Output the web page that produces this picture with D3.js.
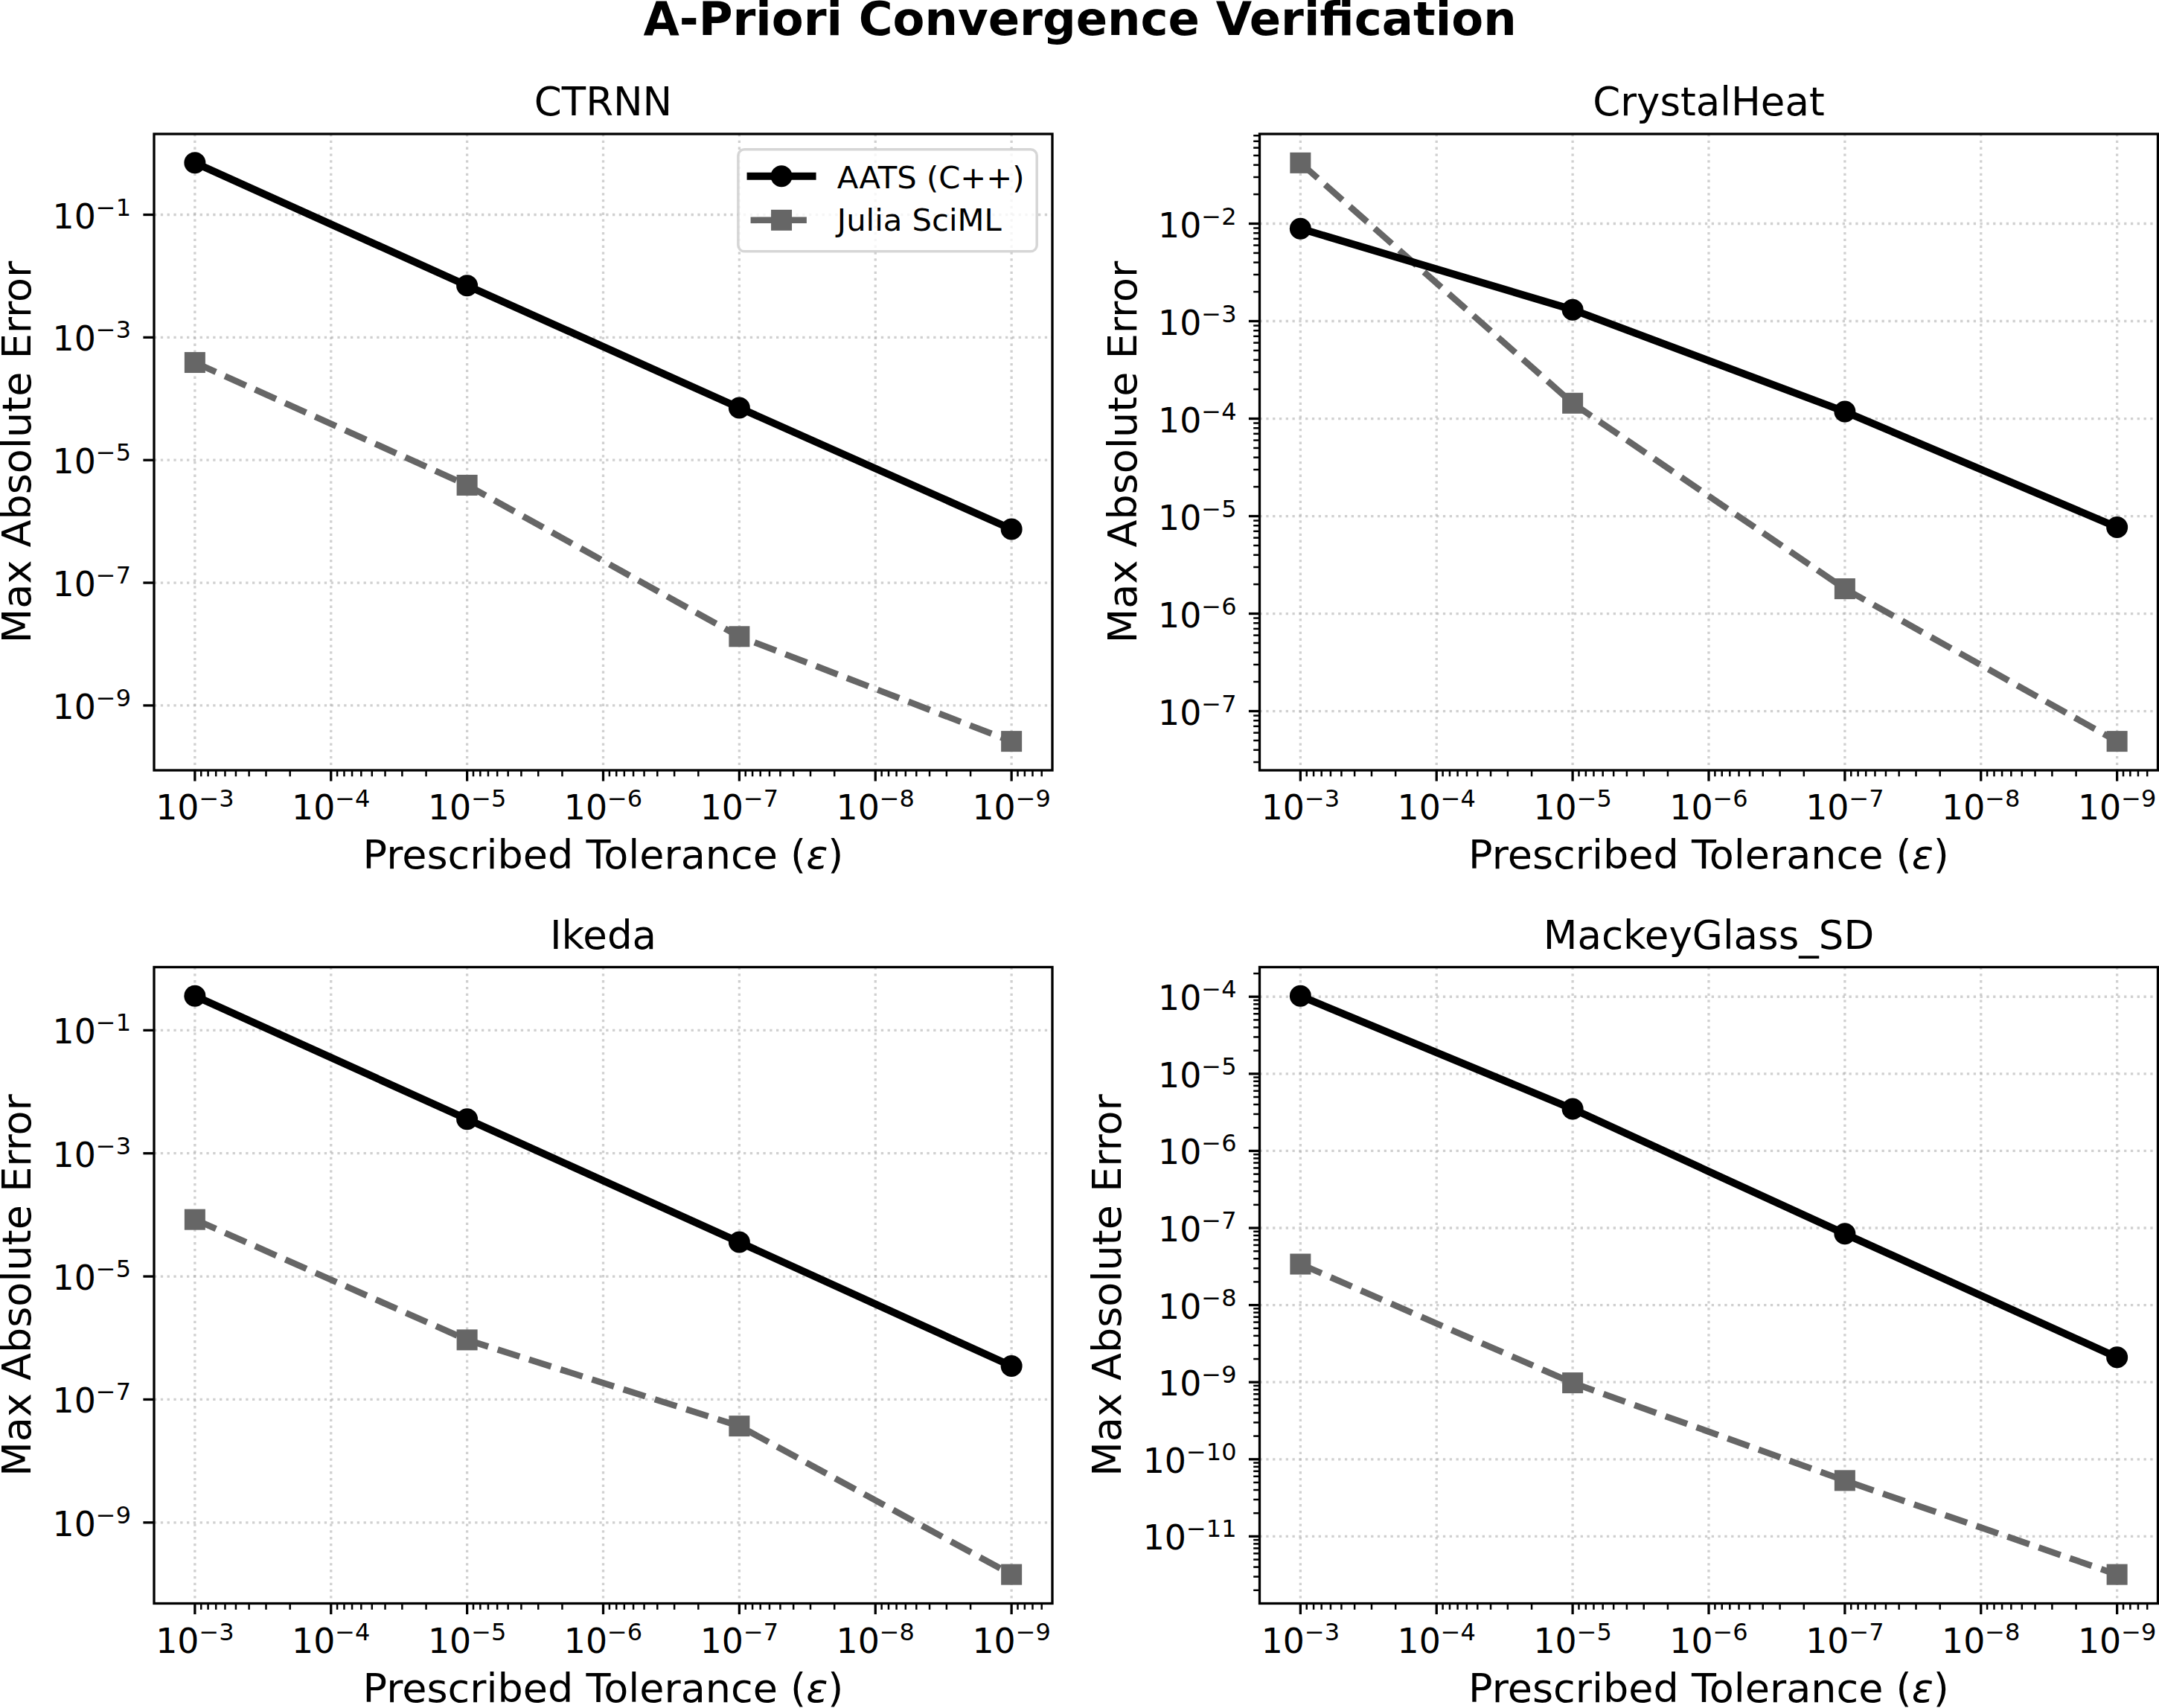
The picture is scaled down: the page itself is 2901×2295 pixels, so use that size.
<!DOCTYPE html>
<meta charset="utf-8">

<!-- Load d3.js -->
<script src="https://d3js.org/d3.v7.min.js"></script>

<style>
  body { margin: 0; background: #fff; }
  text { font-family: "DejaVu Sans", sans-serif; fill: #000; }
</style>

<!-- Create a div where the graph will take place -->
<div id="my_dataviz"></div>

<script>

// ---- data ----
var tolerances = [1e-3, 1e-5, 1e-7, 1e-9];
var panelNames = ["CTRNN", "CrystalHeat", "Ikeda", "MackeyGlass_SD"];
var seriesNames = ["AATS (C++)", "Julia SciML"];

var ctrnnAats = [0.70, 7.0e-3, 7.1e-5, 7.5e-7];
var ctrnnJulia = [3.9e-4, 3.9e-6, 1.33e-8, 2.6e-10];
var crystalAats = [8.9e-3, 1.31e-3, 1.18e-4, 7.7e-6];
var crystalJulia = [4.2e-2, 1.44e-4, 1.8e-6, 4.9e-8];
var ikedaAats = [0.36, 3.6e-3, 3.6e-5, 3.5e-7];
var ikedaJulia = [8.4e-5, 9.3e-7, 3.7e-8, 1.43e-10];
var mackeyAats = [1.02e-4, 3.5e-6, 8.4e-8, 2.1e-9];
var mackeyJulia = [3.4e-8, 9.8e-10, 5.3e-11, 3.2e-12];

// tick exponents (labels are 10^exp)
var xTickExps = [-3, -4, -5, -6, -7, -8, -9];
var ctrnnYTicks = [-1, -3, -5, -7, -9];
var crystalYTicks = [-2, -3, -4, -5, -6, -7];
var ikedaYTicks = [-1, -3, -5, -7, -9];
var mackeyYTicks = [-4, -5, -6, -7, -8, -9, -10, -11];

// ---- layout ----
var W = 2901, H = 2295;
var colLeft = [207, 1692.5], rowTop = [180, 1299.5];
var aw = 1207, ah = 855;
var majorLen = 14.6, minorLen = 8.3;
var tickFont = 45.8, supFont = 32, labelFont = 54, titleFont = 53, legendFont = 41.7;
var aatsColor = "#000000", juliaColor = "#666666";

var panels = [
  {name: panelNames[0], aats: ctrnnAats, julia: ctrnnJulia, yTicks: ctrnnYTicks, col: 0, row: 0, legend: true},
  {name: panelNames[1], aats: crystalAats, julia: crystalJulia, yTicks: crystalYTicks, col: 1, row: 0},
  {name: panelNames[2], aats: ikedaAats, julia: ikedaJulia, yTicks: ikedaYTicks, col: 0, row: 1},
  {name: panelNames[3], aats: mackeyAats, julia: mackeyJulia, yTicks: mackeyYTicks, col: 1, row: 1}
];

var svg = d3.select("#my_dataviz")
  .append("svg")
    .attr("width", W)
    .attr("height", H);

svg.append("rect").attr("width", W).attr("height", H).attr("fill", "#fff");

// figure title
svg.append("text")
    .attr("x", 1451)
    .attr("y", 47)
    .attr("text-anchor", "middle")
    .attr("font-weight", "bold")
    .attr("font-size", 62.5)
    .text("A-Priori Convergence Verification");

// log axis with matplotlib style 5% margins (in log space)
function logDomain(vals) {
  var lg = vals.map(function(v) { return Math.log10(v); });
  var lo = d3.min(lg), hi = d3.max(lg), pad = (hi - lo) * 0.05;
  return [lo - pad, hi + pad];
}

// "10" with a superscript exponent
function powLabel(sel, e) {
  sel.append("tspan").text("10");
  sel.append("tspan")
      .attr("dy", -17)
      .attr("font-size", supFont)
      .text("\u2212" + Math.abs(e));
}

function minorValues(domLo, domHi) {
  var out = [];
  for (var e = Math.floor(domLo) - 1; e <= Math.ceil(domHi); e++) {
    for (var k = 2; k <= 9; k++) {
      var lv = Math.log10(k) + e;
      if (lv >= domLo && lv <= domHi) out.push(Math.pow(10, lv));
    }
  }
  return out;
}

var xd = logDomain(tolerances);

panels.forEach(function(p) {
  var g = svg.append("g")
      .attr("transform", "translate(" + colLeft[p.col] + "," + rowTop[p.row] + ")");

  // X axis: inverted log scale (big tolerance on the left)
  var x = d3.scaleLog()
      .domain([Math.pow(10, xd[1]), Math.pow(10, xd[0])])
      .range([0, aw]);

  var yd = logDomain(p.aats.concat(p.julia));
  var y = d3.scaleLog()
      .domain([Math.pow(10, yd[0]), Math.pow(10, yd[1])])
      .range([ah, 0]);

  var xMajor = xTickExps.map(function(e) { return Math.pow(10, e); });
  var yMajor = p.yTicks.map(function(e) { return Math.pow(10, e); });

  // grid
  g.selectAll(".gx").data(xMajor).enter().append("line")
      .attr("x1", function(d) { return x(d); })
      .attr("x2", function(d) { return x(d); })
      .attr("y1", 0).attr("y2", ah)
      .attr("stroke", "#b0b0b0").attr("stroke-opacity", 0.6)
      .attr("stroke-width", 3.3).attr("stroke-dasharray", "3.3,5.5");
  g.selectAll(".gy").data(yMajor).enter().append("line")
      .attr("y1", function(d) { return y(d); })
      .attr("y2", function(d) { return y(d); })
      .attr("x1", 0).attr("x2", aw)
      .attr("stroke", "#b0b0b0").attr("stroke-opacity", 0.6)
      .attr("stroke-width", 3.3).attr("stroke-dasharray", "3.3,5.5");

  var line = d3.line()
      .x(function(d) { return x(d[0]); })
      .y(function(d) { return y(d[1]); });

  var aatsPts = tolerances.map(function(t, i) { return [t, p.aats[i]]; });
  var juliaPts = tolerances.map(function(t, i) { return [t, p.julia[i]]; });

  // Julia SciML: dashed grey with squares
  g.append("path")
      .datum(juliaPts)
      .attr("d", line)
      .attr("fill", "none")
      .attr("stroke", juliaColor)
      .attr("stroke-width", 8.5)
      .attr("stroke-dasharray", "31,13.3")
      .attr("stroke-linejoin", "round");
  g.selectAll(".sq").data(juliaPts).enter().append("rect")
      .attr("x", function(d) { return x(d[0]) - 14; })
      .attr("y", function(d) { return y(d[1]) - 14; })
      .attr("width", 28).attr("height", 28)
      .attr("fill", juliaColor);

  // AATS: solid black with circles
  g.append("path")
      .datum(aatsPts)
      .attr("d", line)
      .attr("fill", "none")
      .attr("stroke", aatsColor)
      .attr("stroke-width", 10)
      .attr("stroke-linejoin", "round")
      .attr("stroke-linecap", "square");
  g.selectAll(".dot").data(aatsPts).enter().append("circle")
      .attr("cx", function(d) { return x(d[0]); })
      .attr("cy", function(d) { return y(d[1]); })
      .attr("r", 14.5)
      .attr("fill", aatsColor);

  // ticks
  var xMinor = minorValues(xd[0], xd[1]);
  g.selectAll(".xmin").data(xMinor).enter().append("line")
      .attr("x1", function(d) { return x(d); }).attr("x2", function(d) { return x(d); })
      .attr("y1", ah).attr("y2", ah + minorLen)
      .attr("stroke", "#000").attr("stroke-width", 2.5);
  g.selectAll(".xmaj").data(xMajor).enter().append("line")
      .attr("x1", function(d) { return x(d); }).attr("x2", function(d) { return x(d); })
      .attr("y1", ah).attr("y2", ah + majorLen)
      .attr("stroke", "#000").attr("stroke-width", 3.3);

  // minor y ticks only when the major ticks are one decade apart
  if (Math.abs(p.yTicks[1] - p.yTicks[0]) === 1) {
    g.selectAll(".ymin").data(minorValues(yd[0], yd[1])).enter().append("line")
        .attr("y1", function(d) { return y(d); }).attr("y2", function(d) { return y(d); })
        .attr("x1", 0).attr("x2", -minorLen)
        .attr("stroke", "#000").attr("stroke-width", 2.5);
  }
  g.selectAll(".ymaj").data(yMajor).enter().append("line")
      .attr("y1", function(d) { return y(d); }).attr("y2", function(d) { return y(d); })
      .attr("x1", 0).attr("x2", -majorLen)
      .attr("stroke", "#000").attr("stroke-width", 3.3);

  // tick labels
  xTickExps.forEach(function(e) {
    var t = g.append("text")
        .attr("x", x(Math.pow(10, e)))
        .attr("y", ah + 66)
        .attr("text-anchor", "middle")
        .attr("font-size", tickFont);
    powLabel(t, e);
  });
  var yLabelsG = g.append("g");
  p.yTicks.forEach(function(e) {
    var t = yLabelsG.append("text")
        .attr("x", -31)
        .attr("y", y(Math.pow(10, e)) + 18)
        .attr("text-anchor", "end")
        .attr("font-size", tickFont);
    powLabel(t, e);
  });

  // spines
  g.append("rect")
      .attr("width", aw).attr("height", ah)
      .attr("fill", "none")
      .attr("stroke", "#000")
      .attr("stroke-width", 3.3);

  // title and axis labels
  g.append("text")
      .attr("x", aw / 2).attr("y", -25)
      .attr("text-anchor", "middle")
      .attr("font-size", titleFont)
      .text(p.name);

  var xl = g.append("text")
      .attr("x", aw / 2).attr("y", ah + 132)
      .attr("text-anchor", "middle")
      .attr("font-size", labelFont);
  xl.append("tspan").text("Prescribed Tolerance (");
  xl.append("tspan").attr("font-style", "italic").text("\u03b5");
  xl.append("tspan").text(")");

  var bb = yLabelsG.node().getBBox();
  var yx = bb.x - 16.7 - 12.7;
  g.append("text")
      .attr("transform", "translate(" + yx + "," + (ah / 2) + ") rotate(-90)")
      .attr("text-anchor", "middle")
      .attr("font-size", labelFont)
      .text("Max Absolute Error");

  // legend (first panel only)
  if (p.legend) {
    var lg = g.append("g");
    var boxTop = 20.8, pad = 16.7, hl = 83, htp = 33.3;
    var texts = [];
    seriesNames.forEach(function(s, i) {
      texts.push(lg.append("text")
          .attr("y", boxTop + 52 + i * 57)
          .attr("font-size", legendFont)
          .text(s));
    });
    var tw = d3.max(texts, function(t) { return t.node().getComputedTextLength(); });
    var boxW = pad * 2 + hl + htp + tw;
    var boxL = aw - 20.8 - boxW;
    lg.insert("rect", ":first-child")
        .attr("x", boxL).attr("y", boxTop)
        .attr("width", boxW).attr("height", 137)
        .attr("rx", 8.3)
        .attr("fill", "#fff").attr("fill-opacity", 0.8)
        .attr("stroke", "#cccccc").attr("stroke-opacity", 0.8)
        .attr("stroke-width", 3.5);
    texts.forEach(function(t) { t.attr("x", boxL + pad + hl + htp); });

    var hx0 = boxL + pad, hx1 = hx0 + hl, hc = (hx0 + hx1) / 2;
    var hy0 = boxTop + 52 - 16, hy1 = boxTop + 109 - 14;
    lg.append("line")
        .attr("x1", hx0).attr("x2", hx1).attr("y1", hy0).attr("y2", hy0)
        .attr("stroke", aatsColor).attr("stroke-width", 10)
        .attr("stroke-linecap", "square");
    lg.append("circle").attr("cx", hc).attr("cy", hy0).attr("r", 14.5).attr("fill", aatsColor);
    lg.append("line")
        .attr("x1", hx0).attr("x2", hx1).attr("y1", hy1).attr("y2", hy1)
        .attr("stroke", juliaColor).attr("stroke-width", 8.5)
        .attr("stroke-dasharray", "31,13.3");
    lg.append("rect").attr("x", hc - 14).attr("y", hy1 - 14)
        .attr("width", 28).attr("height", 28).attr("fill", juliaColor);
  }
});

</script>
